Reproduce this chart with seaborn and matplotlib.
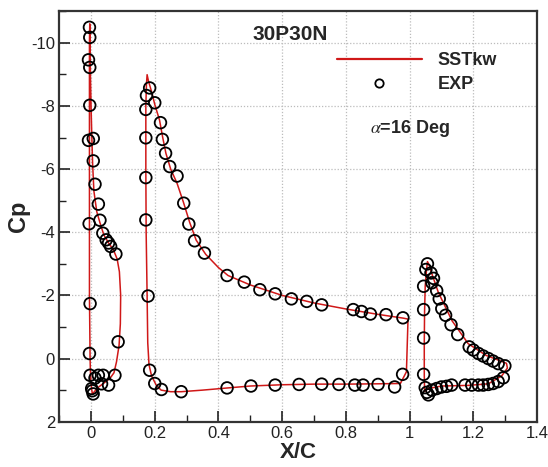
import numpy as np
import pandas as pd
import matplotlib
matplotlib.use("Agg")
import matplotlib.pyplot as plt
from matplotlib.lines import Line2D
from matplotlib.ticker import MultipleLocator
import seaborn as sns

# ---------------- data ----------------
# CFD (SSTkw) curves, one closed path per element
slat_cfd_x = [0.004, 0.0, -0.002, -0.003, -0.004, -0.005, -0.005, -0.005, -0.005, -0.005, -0.004,
              -0.003, -0.002, 0.0, 0.002, 0.005, 0.009, 0.018, 0.028, 0.040, 0.055, 0.070, 0.082,
              0.089, 0.093, 0.092, 0.088, 0.080, 0.072, 0.060, 0.040, 0.020, 0.008, 0.004]
slat_cfd_y = [1.12, 0.80, 0.40, 0.0, -1.0, -2.0, -4.0, -6.0, -8.0, -10.0, -10.6,
              -10.0, -9.0, -8.0, -7.2, -6.15, -5.3, -4.65, -4.3, -3.92, -3.66, -3.45, -3.15,
              -2.75, -2.0, -1.1, -0.42, 0.10, 0.45, 0.62, 0.78, 0.93, 1.08, 1.12]

main_cfd_x = [0.971, 0.90, 0.80, 0.70, 0.60, 0.50, 0.43, 0.35, 0.283, 0.25, 0.22, 0.205, 0.19,
              0.182, 0.178, 0.176, 0.173, 0.172, 0.172, 0.174, 0.176, 0.180, 0.190, 0.200,
              0.215, 0.225, 0.235, 0.250, 0.270, 0.290, 0.310, 0.330, 0.360, 0.400, 0.430,
              0.500, 0.600, 0.700, 0.800, 0.900, 0.980, 0.995, 0.990, 0.971]
main_cfd_y = [0.79, 0.80, 0.81, 0.81, 0.83, 0.87, 0.93, 1.0, 1.05, 1.05, 1.0, 0.85, 0.55,
              0.2, -0.5, -2.0, -4.0, -6.0, -8.0, -8.7, -8.99, -8.8, -8.45, -8.05,
              -7.55, -7.0, -6.5, -6.0, -5.55, -4.95, -4.3, -3.75, -3.3, -2.88, -2.63,
              -2.33, -2.0, -1.76, -1.57, -1.40, -1.28, -1.25, 0.42, 0.79]

flap_cfd_x = [1.047, 1.046, 1.046, 1.047, 1.049, 1.053, 1.056, 1.062, 1.070, 1.090, 1.133,
              1.184, 1.240, 1.304, 1.307, 1.289, 1.247, 1.184, 1.100, 1.059, 1.047]
flap_cfd_y = [1.04, 0.5, -0.5, -1.5, -2.3, -2.8, -3.07, -2.95, -2.68, -2.1, -1.2,
              -0.47, -0.10, 0.15, 0.30, 0.55, 0.80, 0.85, 0.87, 0.95, 1.04]

# Experimental data
slat_exp_x = [-0.005, -0.004, -0.008, -0.004, -0.004, -0.008, 0.007, 0.007, 0.0125, 0.023,
              0.028, -0.006, 0.037, 0.0475, 0.055, 0.0615, 0.078, -0.003, 0.085, -0.005,
              -0.003, 0.023, 0.038, 0.075, 0.0125, 0.002, 0.055, 0.033, 0.0066, 0.004]
slat_exp_y = [-10.49, -10.17, -9.46, -9.22, -8.02, -6.91, -6.97, -6.26, -5.52, -4.89,
              -4.38, -4.27, -3.97, -3.76, -3.66, -3.55, -3.31, -1.74, -0.53, -0.16,
              0.53, 0.53, 0.53, 0.53, 0.62, 0.95, 0.84, 0.80, 1.12, 1.02]

main_exp_x = [0.184, 0.174, 0.200, 0.172, 0.218, 0.224, 0.172, 0.234, 0.247, 0.270, 0.172,
              0.291, 0.307, 0.325, 0.356, 0.172, 0.179, 0.184, 0.200, 0.221, 0.283,
              0.427, 0.481, 0.530, 0.578, 0.629, 0.677, 0.724, 0.823, 0.849, 0.877, 0.926, 0.979,
              0.427, 0.502, 0.578, 0.653, 0.724, 0.778, 0.828, 0.854, 0.901, 0.953, 0.978]
main_exp_y = [-8.57, -8.33, -8.10, -7.89, -7.47, -6.94, -6.99, -6.50, -6.08, -5.78, -5.73,
              -4.92, -4.26, -3.73, -3.34, -4.39, -1.98, 0.37, 0.79, 0.98, 1.05,
              -2.63, -2.42, -2.18, -2.05, -1.89, -1.81, -1.70, -1.55, -1.49, -1.41, -1.39, -1.29,
              0.93, 0.87, 0.84, 0.82, 0.81, 0.82, 0.84, 0.84, 0.82, 0.90, 0.50]

flap_exp_x = [1.056, 1.051, 1.067, 1.075, 1.070, 1.044, 1.085, 1.093, 1.101, 1.044, 1.113,
              1.130, 1.151, 1.044, 1.187, 1.200, 1.216, 1.231, 1.247, 1.262, 1.278, 1.299,
              1.294, 1.278, 1.262, 1.247, 1.231, 1.216, 1.195, 1.174, 1.132, 1.116, 1.100,
              1.085, 1.070, 1.054, 1.049, 1.044, 1.059]
flap_exp_y = [-3.00, -2.82, -2.71, -2.54, -2.40, -2.29, -2.15, -1.89, -1.58, -1.55, -1.37,
              -1.07, -0.76, -0.65, -0.37, -0.27, -0.16, -0.08, 0.00, 0.08, 0.16, 0.23,
              0.61, 0.73, 0.79, 0.82, 0.84, 0.84, 0.84, 0.84, 0.84, 0.88, 0.90,
              0.95, 1.00, 1.07, 0.92, 0.50, 1.15]

x_ticks = [0, 0.2, 0.4, 0.6, 0.8, 1.0, 1.2, 1.4]
x_tick_labels = ["0", "0.2", "0.4", "0.6", "0.8", "1", "1.2", "1.4"]
y_ticks = [-10, -8, -6, -4, -2, 0, 2]
y_tick_labels = ["-10", "-8", "-6", "-4", "-2", "0", "2"]

# ---------------- frames ----------------
cfd = pd.concat([
    pd.DataFrame({"x": slat_cfd_x, "cp": slat_cfd_y, "element": "slat"}),
    pd.DataFrame({"x": main_cfd_x, "cp": main_cfd_y, "element": "main"}),
    pd.DataFrame({"x": flap_cfd_x, "cp": flap_cfd_y, "element": "flap"}),
], ignore_index=True)
exp = pd.DataFrame({"x": slat_exp_x + main_exp_x + flap_exp_x,
                    "cp": slat_exp_y + main_exp_y + flap_exp_y})

# ---------------- plot ----------------
sns.set_theme(style="white")
plt.rcParams["font.family"] = ["Liberation Sans", "DejaVu Sans"]
plt.rcParams["axes.unicode_minus"] = False
plt.rcParams["mathtext.fontset"] = "stix"

red = "#d01818"
fig = plt.figure(figsize=(5.48, 4.67), dpi=100)
ax = fig.add_axes([0.108, 0.097, 0.872, 0.879])

sns.lineplot(data=cfd, x="x", y="cp", units="element", estimator=None, sort=False,
             color=red, linewidth=1.1, ax=ax, legend=False, zorder=3)
sns.scatterplot(data=exp, x="x", y="cp", marker="o", s=70, facecolor="none",
                edgecolor="black", linewidth=1.3, ax=ax, legend=False, zorder=4)

ax.set_xlim(-0.1, 1.4)
ax.set_ylim(2, -11)
ax.set_xticks(x_ticks)
ax.set_xticklabels(x_tick_labels)
ax.set_yticks(y_ticks)
ax.set_yticklabels(y_tick_labels)
ax.xaxis.set_minor_locator(MultipleLocator(0.1))
ax.yaxis.set_minor_locator(MultipleLocator(1))
ax.tick_params(axis="both", which="major", direction="in", length=8, width=1.2,
               labelsize=12, colors="#222222", pad=3, bottom=True, left=True)
ax.tick_params(axis="both", which="minor", direction="in", length=5, width=1.0,
               bottom=True, left=True, colors="#222222")
ax.grid(True, which="major", linestyle=(0, (1, 1.5)), color="#bcbcbc", linewidth=0.9)
ax.set_axisbelow(True)
for sp in ax.spines.values():
    sp.set_linewidth(1.6)
    sp.set_color("#333333")

ax.set_xlabel("X/C", fontsize=16, fontweight="bold", labelpad=1)
ax.set_ylabel("Cp", fontsize=17, fontweight="bold", labelpad=1)

ax.text(0.625, -10.25, "30P30N", fontsize=15, fontweight="bold", ha="center", va="center")
ax.text(0.875, -7.29, r"$\alpha$=16 Deg", fontsize=13, fontweight="bold", ha="left", va="center")

handles = [Line2D([], [], color=red, linewidth=1.6),
           Line2D([], [], color="black", marker="o", linestyle="none", markersize=6,
                  markerfacecolor="none", markeredgewidth=1.3)]
ax.legend(handles, ["SSTkw", "EXP"], loc="upper left", bbox_to_anchor=(0.581, 0.90),
          frameon=False, handlelength=4.7, handletextpad=0.9,
          labelspacing=0.4, borderpad=0, borderaxespad=0,
          prop={"weight": "bold", "size": 13})

fig.savefig("out.png", dpi=100)
